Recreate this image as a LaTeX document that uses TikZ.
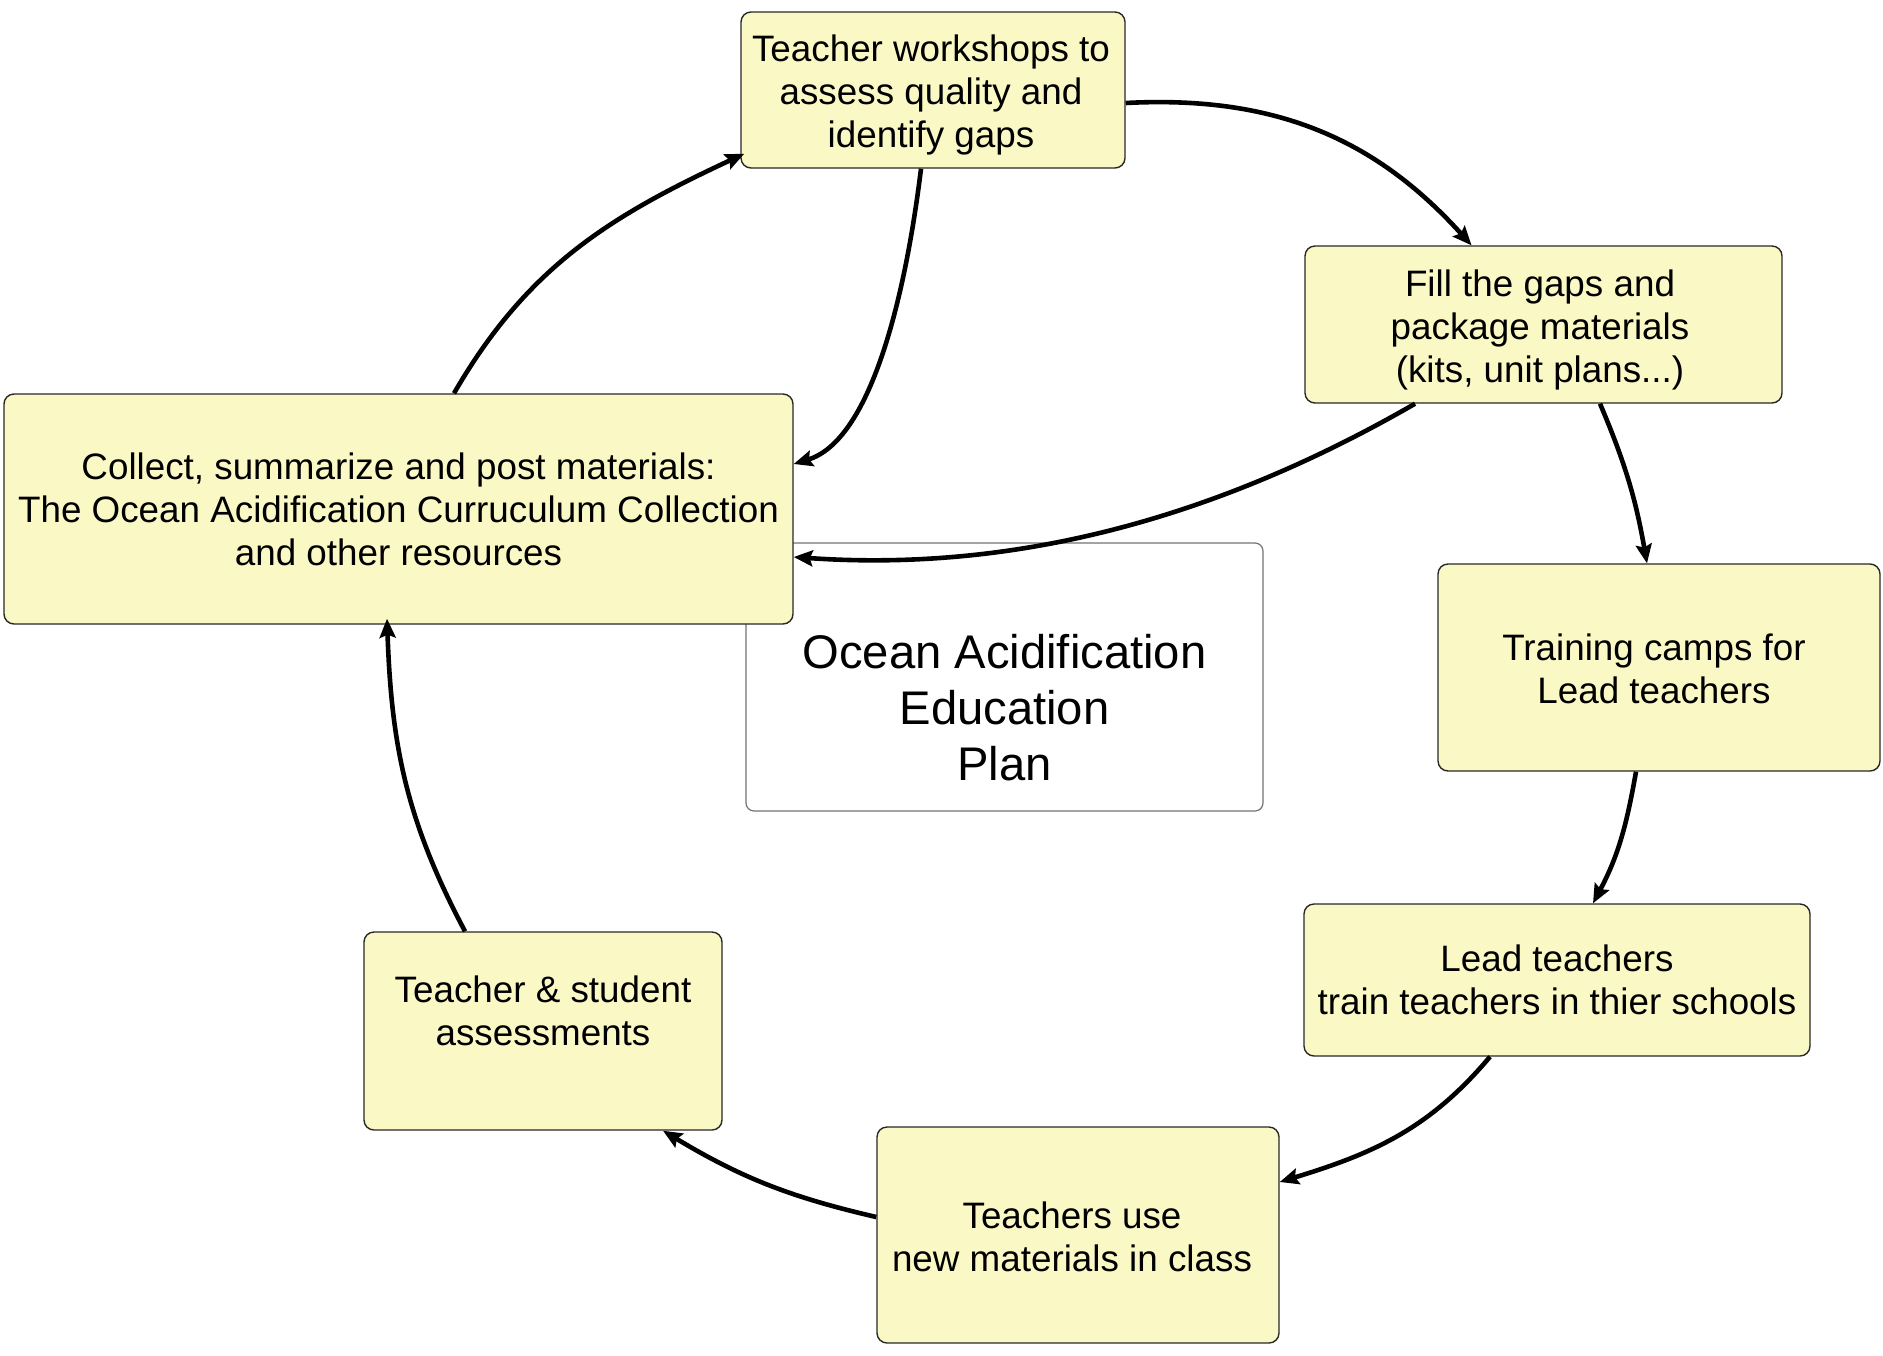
\documentclass[tikz,border=0pt]{standalone}
\usepackage{fontspec}
\setmainfont{Liberation Sans}
\usetikzlibrary{arrows.meta}
\definecolor{boxfill}{RGB}{250,249,198}
\definecolor{boxline}{RGB}{40,40,40}
\tikzset{
  stepbox/.style={draw=boxline, line width=0.7pt, fill=boxfill, rounded corners=5pt,
    inner sep=0pt, align=center, font=\fontsize{18.4}{21.5}\selectfont},
  txt/.style={inner sep=0pt, align=center, font=\fontsize{18.4}{21.5}\selectfont},
  flow/.style={line width=2.3pt, -{Stealth[length=9.5pt,width=8pt,inset=1.5pt]}},
}
\begin{document}
\begin{tikzpicture}[x=0.5pt,y=-0.5pt]
\useasboundingbox (0,0) rectangle (1883,1355);
% central title box (drawn first, partly behind the collect box)
\node[draw=black!55, line width=0.6pt, fill=white, rounded corners=4pt,
      minimum width=258.5pt, minimum height=134pt, inner sep=0pt] (P) at (1004.5,677) {};
\node[inner sep=0pt, align=center, font=\fontsize{23.6}{28}\selectfont] (Ptext) at (1004.5,708)
  {Ocean Acidification\\Education\\Plan};
% process boxes
\node[stepbox, minimum width=192pt, minimum height=78pt] (T) at (933,90) {};
\node[txt] (Ttext) at (931,95) {Teacher workshops to\\assess quality and\\identify gaps};
\node[stepbox, minimum width=238.5pt, minimum height=78.5pt] (F) at (1543.5,324.5) {};
\node[txt] (Ftext) at (1540,329.5) {Fill the gaps and\\package materials\\(kits, unit plans...)};
\node[stepbox, minimum width=394.5pt, minimum height=115pt] (C) at (398.5,509)
  {Collect, summarize and post materials:\\The Ocean Acidification Curruculum Collection\\and other resources};
\node[stepbox, minimum width=221pt, minimum height=103.5pt] (Tr) at (1659,667.5) {};
\node[txt] (Trtext) at (1654,669) {Training camps for\\Lead teachers};
\node[stepbox, minimum width=253pt, minimum height=76pt] (L) at (1557,980)
  {Lead teachers\\train teachers in thier schools};
\node[stepbox, minimum width=201pt, minimum height=108pt] (U) at (1078,1235) {};
\node[txt] (Utext) at (1072,1237) {Teachers use\\new materials in class};
\node[stepbox, minimum width=179pt, minimum height=99pt] (A) at (543,1031) {};
\node[txt] (Atext) at (543,1011) {Teacher \& student\\assessments};
% connectors
\draw[flow] ([shift={(0,13)}]T.east) to[out=3, in=132] ([shift={(-72,0)}]F.north);
\draw[flow] ([shift={(-12,0)}]T.south) to[out=-97, in=17, out distance=66pt, in distance=40pt] ([shift={(0,-45)}]C.east);
\draw[flow] ([shift={(-128.5,0)}]F.south) to[out=210, in=-4, looseness=0.9] ([shift={(0,48)}]C.east);
\draw[flow] ([shift={(56.5,0)}]F.south) to[out=-67, in=100] ([shift={(-12,0)}]Tr.north);
\draw[flow] ([shift={(-23,0)}]Tr.south) to[out=-100, in=62] ([shift={(36,0)}]L.north);
\draw[flow] ([shift={(-67,0)}]L.south) to[out=-130, in=17] ([shift={(0,-53)}]U.east);
\draw[flow] ([shift={(0,-18)}]U.west) to[out=167, in=-31] ([shift={(120,0)}]A.south);
\draw[flow] ([shift={(-78,0)}]A.north) to[out=118, in=-88] ([shift={(-11.5,-6)}]C.south);
\draw[flow] ([shift={(55.5,0)}]C.north) to[out=60, in=205] ([shift={(4,-15)}]T.south west);
\end{tikzpicture}
\end{document}
